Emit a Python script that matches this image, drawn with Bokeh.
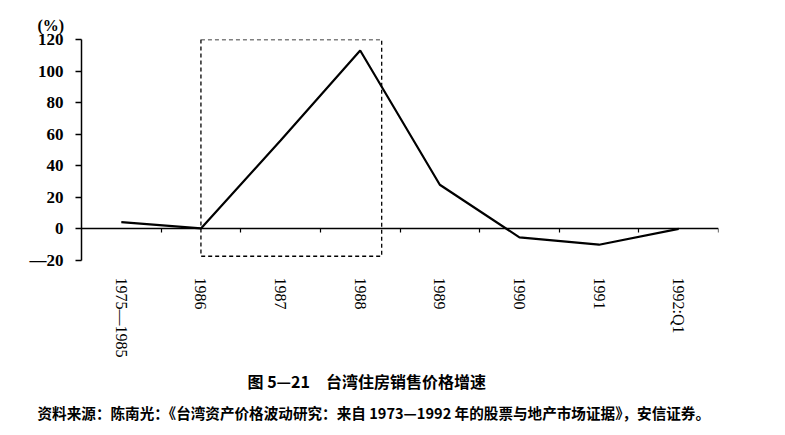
import math
from bokeh.plotting import figure
from bokeh.models import LinearAxis, FixedTicker, Range1d, Title
from bokeh.embed import file_html
from bokeh.resources import INLINE

# ---- data ----
categories = ["1975—1985", "1986", "1987", "1988", "1989", "1990", "1991", "1992:Q1"]
growth = [4.3, 0.3, 56, 113, 28, -5.3, -10, 0]
y_ticks = [-20, 0, 20, 40, 60, 80, 100, 120]
y_tick_labels = ["—20", "0", "20", "40", "60", "80", "100", "120"]
highlight_start = "1986"
highlight_end = "1988"
unit_text = "(%)"
title_text = "图 5—21　台湾住房销售价格增速"
source_text = "资料来源：陈南光：《台湾资产价格波动研究：来自 1973—1992 年的股票与地产市场证据》，安信证券。"

n = len(categories)
centers = [i + 0.5 for i in range(n)]
boundaries = [i + 1 for i in range(n)]
ymin, ymax = y_ticks[0], y_ticks[-1]

p = figure(frame_width=637, frame_height=221,
           min_border_left=81, min_border_right=51, min_border_top=39, min_border_bottom=10,
           x_range=Range1d(0, n), y_range=Range1d(ymin, ymax),
           x_axis_location=None, y_axis_location="left",
           output_backend="svg", toolbar_location=None)
p.outline_line_color = None
p.xgrid.visible = False
p.ygrid.visible = False
p.background_fill_color = "white"
p.border_fill_color = "white"

# y axis
ya = p.yaxis[0]
ya.ticker = FixedTicker(ticks=y_ticks)
ya.major_label_overrides = {t: l for t, l in zip(y_ticks, y_tick_labels)}
ya.major_tick_out = 6
ya.major_tick_in = 0
ya.minor_tick_line_color = None
ya.axis_line_width = 1.5
ya.major_tick_line_width = 1.5
ya.axis_line_color = "black"
ya.major_label_standoff = 12
ya.major_label_text_font = "Liberation Serif"
ya.major_label_text_font_style = "bold"
ya.major_label_text_font_size = "17px"
ya.major_label_text_color = "black"

# category labels axis at the bottom
xa = LinearAxis(ticker=FixedTicker(ticks=centers),
                major_label_overrides={c: l for c, l in zip(centers, categories)},
                axis_line_color=None, major_tick_line_color=None, minor_tick_line_color=None,
                major_label_orientation=-math.pi / 2, major_label_standoff=11,
                major_label_text_font="Liberation Serif", major_label_text_font_size="16px",
                major_label_text_color="black")
p.add_layout(xa, "below")

# zero axis with ticks at category boundaries
za = LinearAxis(fixed_location=0, ticker=FixedTicker(ticks=boundaries),
                major_label_text_font_size="0px", major_label_text_alpha=0,
                major_label_standoff=0,
                major_tick_out=4, major_tick_in=0, minor_tick_line_color=None,
                axis_line_width=1.5, major_tick_line_width=1.2, axis_line_color="black")
p.add_layout(za, "below")

# highlight box
i0 = categories.index(highlight_start)
i1 = categories.index(highlight_end)
p.quad(left=[centers[i0]], right=[centers[i1] + 0.27], top=[ymax], bottom=[ymin + 2.7],
       fill_color=None, line_color="black", line_dash="4 3", line_width=1.3)

# line
p.line(centers, growth, line_color="black", line_width=2.2)

# texts
p.add_layout(Title(text=unit_text, align="left", offset=-44, standoff=12,
                   text_font="Liberation Serif", text_font_style="bold", text_font_size="16px",
                   text_color="black"), "above")
p.add_layout(Title(text=title_text, align="left", offset=166, standoff=13,
                   text_font="Noto Sans CJK SC", text_font_style="bold", text_font_size="16px",
                   text_color="black"), "below")
p.add_layout(Title(text=source_text, align="left", offset=-44, standoff=0,
                   text_font="Noto Sans CJK SC", text_font_style="bold", text_font_size="14.6px",
                   text_color="black"), "below")

open("out.html", "w").write(file_html(p, INLINE))
